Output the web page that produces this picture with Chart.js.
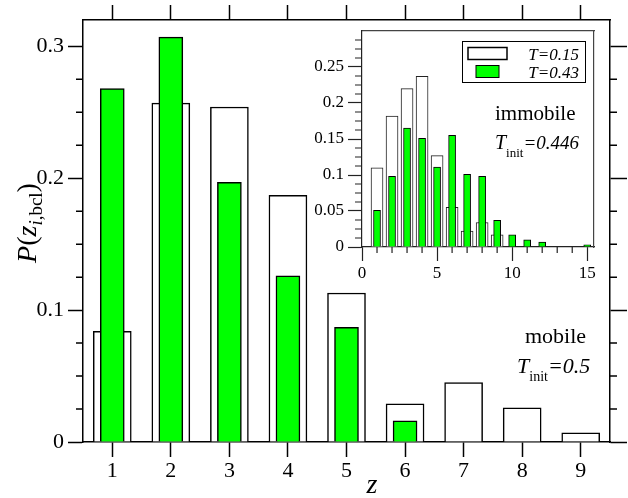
<!DOCTYPE html>
<html lang="en">
<head>
<meta charset="UTF-8">
<title>P(z) bond histogram</title>
<style>
  body { margin: 0; background: #fff; }
  #wrap { position: relative; width: 628px; height: 498px; }
  #insetBox { position: absolute; left: 300px; top: 25px; width: 298px; height: 262px; }
</style>
<script src="https://cdn.jsdelivr.net/npm/chart.js"></script>
</head>
<body>
<div id="wrap">
  <canvas id="mainChart" width="628" height="498"></canvas>
  <div id="insetBox"><canvas id="insetChart" width="298" height="262"></canvas></div>
</div>

<script>
// main plot: mobile particles, T_init = 0.5
const zMain = [1, 2, 3, 4, 5, 6, 7, 8, 9];
const mobileCold = [0.084, 0.257, 0.254, 0.187, 0.113, 0.029, 0.045, 0.026, 0.007]; // T=0.15
const mobileHot = [0.268, 0.307, 0.197, 0.126, 0.087, 0.016, null, null, null];     // T=0.43
const mainYTicks = [0, 0.1, 0.2, 0.3];
const mainYLabels = ['0', '0.1', '0.2', '0.3'];
const mainYMinor = [0.025, 0.05, 0.075, 0.125, 0.15, 0.175, 0.225, 0.25, 0.275];

// inset: immobile particles, T_init = 0.446
const zInset = [1, 2, 3, 4, 5, 6, 7, 8, 9, 10, 11, 12, 13, 14, 15];
const immobileCold = [0.110, 0.182, 0.220, 0.237, 0.127, 0.055, 0.022, 0.034, 0.017, null, null, null, null, null, null];
const immobileHot = [0.051, 0.098, 0.165, 0.151, 0.111, 0.155, 0.101, 0.098, 0.037, 0.017, 0.010, 0.007, null, null, 0.003];
const insetYTicks = [0, 0.05, 0.1, 0.15, 0.2, 0.25];
const insetYLabels = ['0', '0.05', '0.1', '0.15', '0.2', '0.25'];
const insetYMinor = [0.0125, 0.025, 0.0375, 0.0625, 0.075, 0.0875, 0.1125, 0.125, 0.1375,
                     0.1625, 0.175, 0.1875, 0.2125, 0.225, 0.2375, 0.2625, 0.275, 0.2875];
const insetXTicks = [0, 5, 10, 15];
const insetXMinor = [1, 2, 3, 4, 6, 7, 8, 9, 11, 12, 13, 14];

const seriesLabels = ['T=0.15', 'T=0.43'];
const GREEN = '#00ff00';
const SERIF = "'Liberation Serif', 'Times New Roman', serif";

Chart.defaults.font.family = SERIF;
Chart.defaults.color = '#000';

function fixSize(w, h) {
  return function (scale) {
    if (w !== undefined) scale.width = w;
    if (h !== undefined) scale.height = h;
    scale.paddingLeft = scale.paddingRight = scale.paddingTop = scale.paddingBottom = 0;
  };
}

function setTicks(values) {
  return function (scale) { scale.ticks = values.map(v => ({ value: v })); };
}

// text made of runs with different fonts / baseline shifts
function drawRuns(ctx, x, y, runs, align) {
  let total = 0;
  runs.forEach(r => { ctx.font = r[1]; total += ctx.measureText(r[0]).width; });
  let cx = align === 'right' ? x - total : align === 'center' ? x - total / 2 : x;
  runs.forEach(r => {
    ctx.font = r[1];
    ctx.fillText(r[0], cx, y + (r[2] || 0));
    cx += ctx.measureText(r[0]).width;
  });
}

// short ticks between the labelled ones
const minorTicks = {
  id: 'minorTicks',
  afterDraw(chart, args, opts) {
    const ctx = chart.ctx, a = chart.chartArea;
    ctx.save();
    ctx.strokeStyle = opts.color;
    ctx.lineWidth = opts.width;
    ctx.beginPath();
    opts.marks.forEach(m => {
      const s = chart.scales[m.scale];
      m.values.forEach(v => {
        const p = s.getPixelForValue(v);
        if (m.side === 'left') { ctx.moveTo(a.left - m.length, p); ctx.lineTo(a.left, p); }
        if (m.side === 'right') { ctx.moveTo(a.right, p); ctx.lineTo(a.right + m.length, p); }
        if (m.side === 'bottom') { ctx.moveTo(p, a.bottom); ctx.lineTo(p, a.bottom + m.length); }
      });
    });
    ctx.stroke();
    ctx.restore();
  }
};

const mainNotes = {
  id: 'mainNotes',
  afterDraw(chart) {
    const ctx = chart.ctx;
    ctx.save();
    ctx.fillStyle = '#000';
    ctx.textBaseline = 'alphabetic';
    ctx.textAlign = 'left';
    drawRuns(ctx, 525, 343, [['mobile', '22px ' + SERIF]]);
    drawRuns(ctx, 517, 373, [['T', 'italic 22px ' + SERIF], ['init', '14px ' + SERIF, 8], ['=0.5', 'italic 22px ' + SERIF]]);
    // x axis title
    drawRuns(ctx, 372, 493, [['z', 'italic 28px ' + SERIF]], 'center');
    // y axis title
    ctx.translate(36, 223);
    ctx.rotate(-Math.PI / 2);
    drawRuns(ctx, 0, 0, [
      ['P', 'italic 28px ' + SERIF], ['(', '28px ' + SERIF], ['z', 'italic 28px ' + SERIF],
      ['i', 'italic 19px ' + SERIF, 6], [',bcl', '19px ' + SERIF, 6], [')', '28px ' + SERIF]
    ], 'center');
    ctx.restore();
  }
};

const insetNotes = {
  id: 'insetNotes',
  afterDraw(chart) {
    const ctx = chart.ctx;
    const ds = chart.data.datasets;
    ctx.save();
    ctx.fillStyle = '#000';
    ctx.textBaseline = 'alphabetic';
    // legend
    ctx.strokeStyle = '#000';
    ctx.lineWidth = 1;
    ctx.strokeRect(162.5, 16.5, 123, 41);
    ctx.lineWidth = 1.5;
    ctx.fillStyle = ds[1].backgroundColor;
    ctx.fillRect(168, 22.5, 39, 12);
    ctx.strokeRect(168, 22.5, 39, 12);
    ctx.fillStyle = ds[0].backgroundColor;
    ctx.fillRect(176, 40.5, 23, 12);
    ctx.lineWidth = 1;
    ctx.strokeRect(176, 40.5, 23, 12);
    ctx.fillStyle = '#000';
    drawRuns(ctx, 279, 35, [[ds[1].label, 'italic 17px ' + SERIF]], 'right');
    drawRuns(ctx, 279, 52.5, [[ds[0].label, 'italic 17px ' + SERIF]], 'right');
    drawRuns(ctx, 195, 95, [['immobile', '21px ' + SERIF]]);
    drawRuns(ctx, 195, 124, [['T', 'italic 20px ' + SERIF], ['init', '13px ' + SERIF, 8], ['=0.446', 'italic 19px ' + SERIF]]);
    ctx.restore();
  }
};

new Chart(document.getElementById('mainChart'), {
  type: 'bar',
  data: {
    datasets: [
      {
        label: seriesLabels[1],
        data: zMain.map((z, i) => ({ x: z, y: mobileHot[i] })),
        backgroundColor: GREEN, borderColor: '#000', borderWidth: 1.5,
        barThickness: 24, grouped: false, order: 0, xAxisID: 'x', yAxisID: 'y'
      },
      {
        label: seriesLabels[0],
        data: zMain.map((z, i) => ({ x: z, y: mobileCold[i] })),
        backgroundColor: '#fff', borderColor: '#000', borderWidth: 1.5,
        barThickness: 38, grouped: false, order: 1, xAxisID: 'x', yAxisID: 'y'
      }
    ]
  },
  options: {
    responsive: false,
    animation: false,
    layout: { padding: 0 },
    plugins: {
      legend: { display: false },
      tooltip: { enabled: false },
      minorTicks: {
        color: '#000', width: 1.5,
        marks: [
          { scale: 'y', side: 'left', length: 7, values: mainYMinor },
          { scale: 'y', side: 'right', length: 7, values: mainYMinor }
        ]
      }
    },
    scales: {
      x: {
        type: 'linear', position: 'bottom', min: 0.5, max: 9.5, offset: false,
        afterBuildTicks: setTicks(zMain), afterFit: fixSize(undefined, 56),
        grid: { offset: false, drawOnChartArea: false, tickLength: 15, tickWidth: 1.5, tickColor: '#000' },
        border: { color: '#000', width: 1.5 },
        ticks: { font: { size: 22 }, padding: 1, maxRotation: 0 }
      },
      x2: {
        type: 'linear', position: 'top', min: 0.5, max: 9.5, offset: false,
        afterBuildTicks: setTicks(zMain), afterFit: fixSize(undefined, 20),
        grid: { offset: false, drawOnChartArea: false, tickLength: 15, tickWidth: 1.5, tickColor: '#000' },
        border: { color: '#000', width: 1.5 },
        ticks: { display: false }
      },
      y: {
        type: 'linear', position: 'left', min: 0, max: 0.32,
        afterBuildTicks: setTicks(mainYTicks), afterFit: fixSize(83),
        grid: { drawOnChartArea: false, tickLength: 15, tickWidth: 1.5, tickColor: '#000' },
        border: { color: '#000', width: 1.5 },
        ticks: { font: { size: 22 }, padding: 4, callback: (v, i) => mainYLabels[i] }
      },
      y2: {
        type: 'linear', position: 'right', min: 0, max: 0.32,
        afterBuildTicks: setTicks(mainYTicks), afterFit: fixSize(18),
        grid: { drawOnChartArea: false, tickLength: 17, tickWidth: 1.5, tickColor: '#000' },
        border: { color: '#000', width: 1.5 },
        ticks: { display: false }
      }
    }
  },
  plugins: [minorTicks, mainNotes]
});

new Chart(document.getElementById('insetChart'), {
  type: 'bar',
  data: {
    datasets: [
      {
        label: seriesLabels[1],
        data: zInset.map((z, i) => ({ x: z, y: immobileHot[i] })),
        backgroundColor: GREEN, borderColor: '#000', borderWidth: 1,
        barThickness: 7, grouped: false, order: 0, xAxisID: 'x', yAxisID: 'y'
      },
      {
        label: seriesLabels[0],
        data: zInset.map((z, i) => ({ x: z, y: immobileCold[i] })),
        backgroundColor: '#fff', borderColor: '#222', borderWidth: 1,
        barThickness: 12, grouped: false, order: 1, xAxisID: 'x', yAxisID: 'y'
      }
    ]
  },
  options: {
    responsive: false,
    animation: false,
    layout: { padding: 0 },
    plugins: {
      legend: { display: false },
      tooltip: { enabled: false },
      minorTicks: {
        color: '#222', width: 1.2,
        marks: [
          { scale: 'y', side: 'left', length: 7, values: insetYMinor },
          { scale: 'x', side: 'bottom', length: 6, values: insetXMinor }
        ]
      }
    },
    scales: {
      x: {
        type: 'linear', position: 'bottom', min: 0, max: 15.45, offset: false,
        afterBuildTicks: setTicks(insetXTicks), afterFit: fixSize(undefined, 40),
        grid: { offset: false, drawOnChartArea: false, tickLength: 14, tickWidth: 1.2, tickColor: '#222' },
        border: { color: '#222', width: 1.2 },
        ticks: { font: { size: 17 }, padding: 2, maxRotation: 0 }
      },
      x2: {
        type: 'linear', position: 'top', min: 0, max: 15.45,
        afterFit: fixSize(undefined, 6),
        grid: { drawOnChartArea: false, drawTicks: false },
        border: { color: '#444', width: 1.2 },
        ticks: { display: false }
      },
      y: {
        type: 'linear', position: 'left', min: 0, max: 0.3,
        afterBuildTicks: setTicks(insetYTicks), afterFit: fixSize(62),
        grid: { drawOnChartArea: false, tickLength: 14, tickWidth: 1.2, tickColor: '#222' },
        border: { color: '#222', width: 1.2 },
        ticks: { font: { size: 17 }, padding: 4, callback: (v, i) => insetYLabels[i] }
      },
      y2: {
        type: 'linear', position: 'right', min: 0, max: 0.3,
        afterFit: fixSize(4),
        grid: { drawOnChartArea: false, drawTicks: false },
        border: { color: '#444', width: 1.2 },
        ticks: { display: false }
      }
    }
  },
  plugins: [minorTicks, insetNotes]
});
</script>
</body>
</html>
